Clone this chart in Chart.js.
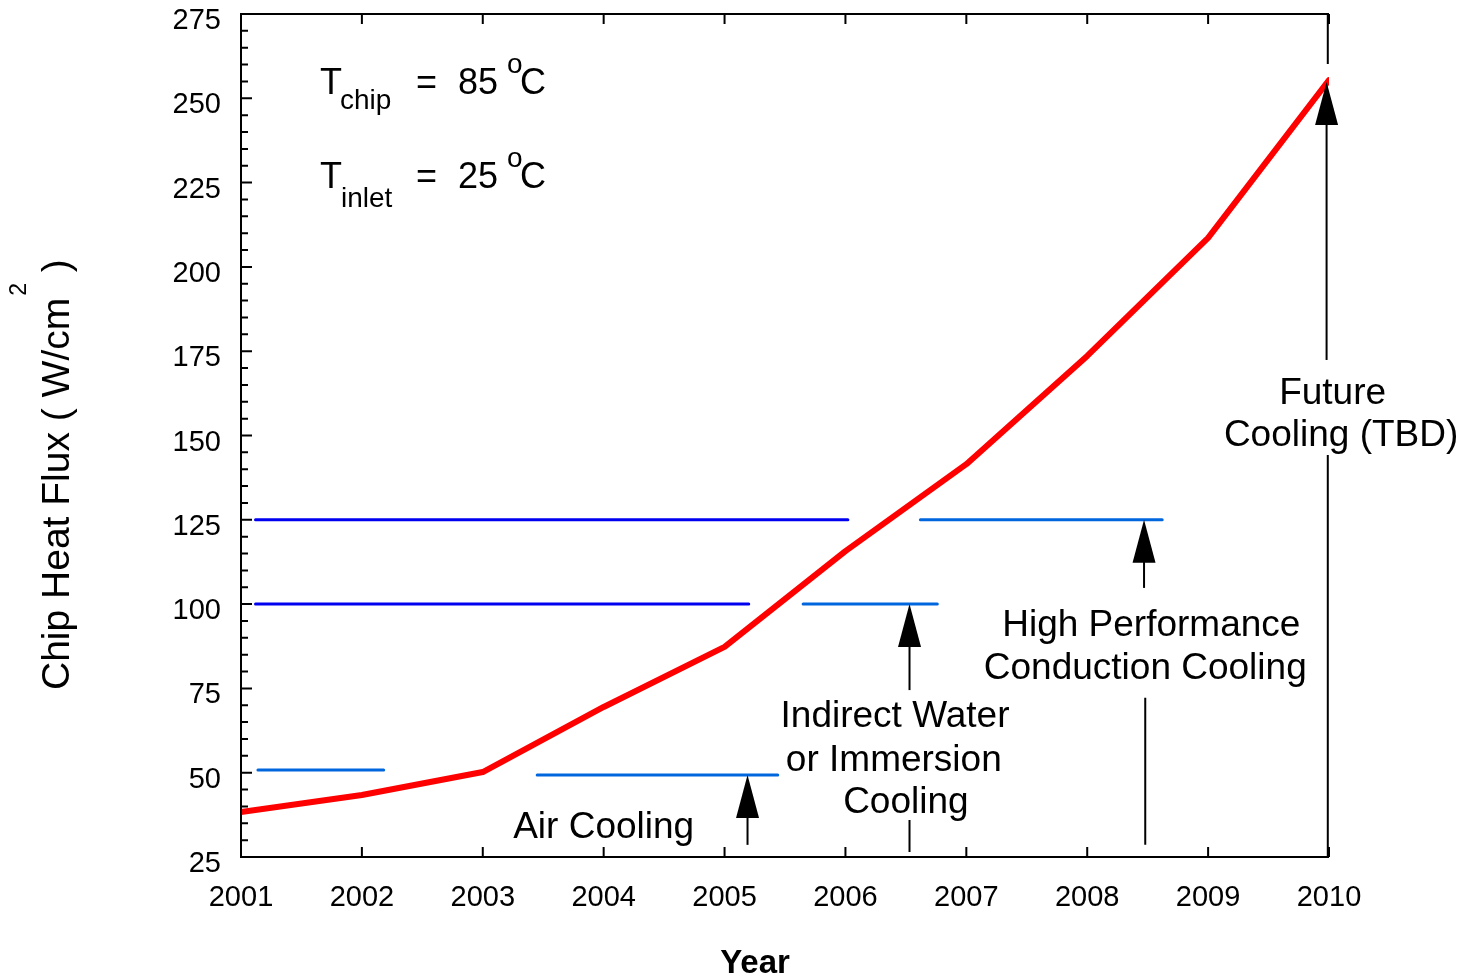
<!DOCTYPE html>
<html>
<head>
<meta charset="utf-8">
<script src="https://cdn.jsdelivr.net/npm/chart.js@4/dist/chart.umd.min.js"></script>
<style>
  html, body { margin: 0; padding: 0; background: #fff; }
  canvas { display: block; }
</style>
</head>
<body>
<canvas id="fluxChart" width="1466" height="978"></canvas>
<script>
// chip heat flux trend (W/cm2) per year
const years = [2001, 2002, 2003, 2004, 2005, 2006, 2007, 2008, 2009, 2010];
const heatFlux = [38.3, 43.4, 50.2, 69.5, 87.3, 115.7, 141.5, 173.6, 208.6, 255.4];

// cooling limit bars: start year, end year, level
const darkFrom = [2001.12, 2001.12];
const darkTo = [2006.02, 2005.20];
const darkLevel = [125, 100];
const lightFrom = [2001.14, 2003.45, 2005.65, 2006.62];
const lightTo = [2002.18, 2005.44, 2006.76, 2008.62];
const lightLevel = [50.8, 49.3, 100, 125];

// arrows: x, tip, tail  /  plain leader lines: x, from, to
const arrowX = [2005.19, 2006.53, 2008.47, 2009.98];
const arrowTip = [49.3, 100, 125, 254.8];
const arrowTail = [28.6, 74.5, 104.8, 172.4];
const leaderX = [2006.53, 2008.48, 2009.99, 2009.99];
const leaderFrom = [36.0, 72.2, 144.2, 260.2];
const leaderTo = [26.5, 28.6, 25, 275];

const noteText = ['Air Cooling', 'Indirect Water', 'or Immersion', 'Cooling',
  'High Performance', 'Conduction Cooling', 'Future', 'Cooling (TBD)'];
const noteX = [2004.00, 2006.41, 2006.40, 2006.50, 2008.53, 2008.48, 2010.03, 2010.10];
const noteY = [30.6, 63.6, 50.5, 38.0, 90.5, 77.8, 159.3, 146.9];

const FONT = '"Liberation Sans", Arial, sans-serif';
Chart.defaults.font.family = FONT;
Chart.defaults.color = '#000';

function segment(x0, x1, level, color) {
  return {
    data: [{ x: x0, y: level }, { x: x1, y: level }],
    borderColor: color,
    borderWidth: 3,
    borderCapStyle: 'round',
    pointRadius: 0,
    fill: false
  };
}

const datasets = [];
darkFrom.forEach((v, i) => datasets.push(segment(v, darkTo[i], darkLevel[i], '#0000f0')));
lightFrom.forEach((v, i) => datasets.push(segment(v, lightTo[i], lightLevel[i], '#0066dd')));
datasets.push({
  data: years.map((yr, i) => ({ x: yr, y: heatFlux[i] })),
  borderColor: '#ff0000',
  borderWidth: 6,
  borderCapStyle: 'round',
  borderJoinStyle: 'round',
  tension: 0,
  pointRadius: 0,
  fill: false
});

// left, bottom and top axis lines with inward ticks (no right border)
const framePlugin = {
  id: 'frame',
  afterDraw(chart) {
    const { ctx, chartArea: { left, right, top, bottom }, scales: { x, y } } = chart;
    ctx.save();
    ctx.strokeStyle = '#000';
    ctx.lineWidth = 2;
    ctx.beginPath();
    ctx.moveTo(right, top);
    ctx.lineTo(left, top);
    ctx.lineTo(left, bottom);
    ctx.lineTo(right, bottom);
    for (let v = 25; v <= 275; v += 5) {
      const py = y.getPixelForValue(v);
      const len = v % 25 === 0 ? 11 : 7;
      ctx.moveTo(left, py);
      ctx.lineTo(left + len, py);
    }
    years.forEach(yr => {
      const px = x.getPixelForValue(yr);
      ctx.moveTo(px, bottom);
      ctx.lineTo(px, bottom - 10);
      ctx.moveTo(px, top);
      ctx.lineTo(px, top + 10);
    });
    ctx.stroke();
    ctx.restore();
  }
};

function txt(ctx, s, px, py, size, align, weight) {
  ctx.font = (weight || '') + ' ' + size + 'px ' + FONT;
  ctx.textAlign = align || 'left';
  ctx.textBaseline = 'alphabetic';
  ctx.fillText(s, px, py);
}

const notesPlugin = {
  id: 'notes',
  afterDraw(chart) {
    const { ctx, scales: { x, y } } = chart;
    ctx.save();
    ctx.fillStyle = '#000';
    ctx.strokeStyle = '#000';
    ctx.lineWidth = 2;

    // arrows
    arrowX.forEach((v, i) => {
      const px = x.getPixelForValue(v);
      const tip = y.getPixelForValue(arrowTip[i]);
      const tail = y.getPixelForValue(arrowTail[i]);
      ctx.beginPath();
      ctx.moveTo(px, tail);
      ctx.lineTo(px, tip + 40);
      ctx.stroke();
      ctx.beginPath();
      ctx.moveTo(px, tip);
      ctx.lineTo(px - 11.5, tip + 43);
      ctx.lineTo(px + 11.5, tip + 43);
      ctx.closePath();
      ctx.fill();
    });
    ctx.beginPath();
    leaderX.forEach((v, i) => {
      const px = x.getPixelForValue(v);
      ctx.moveTo(px, y.getPixelForValue(leaderFrom[i]));
      ctx.lineTo(px, y.getPixelForValue(leaderTo[i]));
    });
    ctx.stroke();

    // labels
    noteText.forEach((s, i) => {
      txt(ctx, s, x.getPixelForValue(noteX[i]), y.getPixelForValue(noteY[i]), 37, 'center');
    });

    // T chip / T inlet
    txt(ctx, 'T', 320, 94, 36);
    txt(ctx, 'chip', 340, 109, 28);
    txt(ctx, '=', 416, 94, 36);
    txt(ctx, '85', 458, 94, 36);
    txt(ctx, 'o', 507, 73, 28);
    txt(ctx, 'C', 520, 94, 36);
    txt(ctx, 'T', 320, 188, 36);
    txt(ctx, 'inlet', 341, 207, 28);
    txt(ctx, '=', 416, 188, 36);
    txt(ctx, '25', 458, 188, 36);
    txt(ctx, 'o', 507, 167, 28);
    txt(ctx, 'C', 520, 188, 36);

    // x axis title
    txt(ctx, 'Year', 755, 973, 33, 'center', 'bold');

    // y axis title, rotated
    ctx.translate(69, 690);
    ctx.rotate(-Math.PI / 2);
    ctx.font = '39px ' + FONT;
    const main = 'Chip Heat Flux ( W/cm';
    txt(ctx, main, 0, 0, 39);
    let w = ctx.measureText(main).width + 2;
    txt(ctx, '2', w, -43, 23);
    ctx.font = '23px ' + FONT;
    w += ctx.measureText('2').width;
    txt(ctx, ' )', w, 0, 39);
    ctx.restore();
  }
};

new Chart(document.getElementById('fluxChart'), {
  type: 'line',
  data: { datasets: datasets },
  options: {
    responsive: false,
    animation: false,
    layout: { padding: { top: 14, right: 137, left: 0, bottom: 0 } },
    plugins: { legend: { display: false }, tooltip: { enabled: false } },
    scales: {
      x: {
        type: 'linear',
        min: 2001,
        max: 2010,
        grid: { display: false, drawTicks: false },
        border: { display: false },
        ticks: {
          stepSize: 1,
          padding: 24,
          maxRotation: 0,
          autoSkip: false,
          color: '#000',
          font: { size: 29 },
          callback: v => String(v)
        },
        afterFit: s => { s.height = 121; s.paddingLeft = 0; s.paddingRight = 0; }
      },
      y: {
        min: 25,
        max: 275,
        grid: { display: false, drawTicks: false },
        border: { display: false },
        ticks: {
          stepSize: 25,
          padding: 20,
          labelOffset: 7,
          color: '#000',
          font: { size: 29 }
        },
        afterFit: s => { s.width = 241; s.paddingTop = 0; s.paddingBottom = 0; }
      }
    }
  },
  plugins: [framePlugin, notesPlugin]
});
</script>
</body>
</html>
